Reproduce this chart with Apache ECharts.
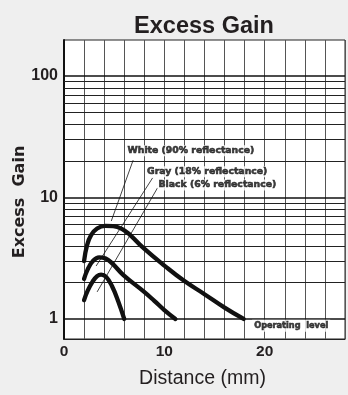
<!DOCTYPE html>
<html>
<head>
<meta charset="utf-8">
<script src="https://cdn.jsdelivr.net/npm/echarts@6/dist/echarts.min.js"></script>
<style>
  html, body { margin: 0; padding: 0; background: #efefef; }
  #chart { width: 348px; height: 395px; }
</style>
</head>
<body>
<div id="chart"></div>
<script>
// ---- data ----
const whiteCurve = [[2.0,3.0],[2.3,4.05],[2.7,4.9],[3.3,5.55],[4.1,5.85],[4.9,5.82],[5.8,5.5],[6.6,4.9],[7.85,3.88],[10.0,2.75],[12.0,2.05],[14.0,1.6],[16.0,1.24],[17.9,1.0]];
const grayCurve  = [[2.0,2.14],[2.35,2.55],[2.85,2.98],[3.5,3.22],[4.15,3.15],[4.8,2.87],[5.92,2.3],[7.96,1.68],[9.0,1.41],[9.97,1.19],[11.1,1.0]];
const blackCurve = [[2.0,1.43],[2.35,1.7],[2.85,2.03],[3.3,2.25],[3.7,2.32],[4.2,2.22],[4.8,1.85],[5.4,1.4],[6.0,1.0]];

const whiteLeader = [[6.89,20.3],[4.71,6.4]];
const grayLeader  = [[8.83,14.5],[3.2,2.73]];
const blackLeader = [[9.32,12.0],[3.3,1.67]];

const curveLabels = [
  {name: 'White (90% reflectance)', at: [6.23, 24.3]},
  {name: 'Gray (18% reflectance)',  at: [8.18, 16.3]},
  {name: 'Black (6% reflectance)',  at: [9.32, 12.67]}
];
const operatingLabel = {name: 'Operating  level', at: [18.75, 0.88]};

const xTickLabels = [0, 10, 20];
const yTickLabels = [1, 10, 100];
const yGridMinor = [2,3,4,5,6,7,8,9,20,30,40,50,60,70,80,90];
const yGridMajor = [1,10,100];

// ---- chart ----
const chart = echarts.init(document.getElementById('chart'), null, {renderer: 'canvas'});

const curveStyle = {color: '#111', width: 4.3, cap: 'round', join: 'round'};
function curve(data) {
  return {type: 'line', data: data, smooth: 0.45, symbol: 'none', z: 4,
          lineStyle: curveStyle, silent: true};
}
function leader(data) {
  return {type: 'line', data: data, symbol: 'none', z: 3,
          lineStyle: {color: '#111', width: 0.8}, silent: true};
}
const labelFont = {fontFamily: 'DejaVu Sans', fontWeight: 'bold', color: '#111',
                   textBorderColor: '#111', textBorderWidth: 0.6};

const option = {
  backgroundColor: '#efefef',
  animation: false,
  title: {
    text: 'Excess Gain', left: 199, top: 10, textAlign: 'center',
    textStyle: {fontFamily: 'Liberation Sans', fontWeight: 'bold', fontSize: 23.5, color: '#231f20'}
  },
  graphic: [{
    type: 'text', x: 20, y: 202, rotation: Math.PI / 2,
    style: {text: 'Excess  Gain', x: 0, y: 0, textAlign: 'center', textVerticalAlign: 'middle',
            font: 'bold 16px "DejaVu Sans"', fill: '#231f20'}
  }],
  grid: {left: 64, right: -4, top: 40, bottom: 56, show: true, backgroundColor: '#ffffff',
         borderColor: '#222', borderWidth: 1},
  xAxis: {
    type: 'value', min: 0, max: 28, interval: 2,
    name: 'Distance (mm)', nameLocation: 'middle', nameGap: 30,
    nameTextStyle: {fontFamily: 'Liberation Sans', fontSize: 19.5, color: '#231f20', padding: [0, 4, 0, 0]},
    axisLine: {show: true, lineStyle: {color: '#222', width: 1}},
    axisTick: {show: false},
    splitLine: {show: true, lineStyle: {color: '#555', width: 1}},
    axisLabel: {
      margin: 5, fontFamily: 'Liberation Sans', fontWeight: 'bold', fontSize: 15.5, color: '#231f20',
      formatter: v => xTickLabels.includes(v) ? String(v) : ''
    }
  },
  yAxis: {
    type: 'log', logBase: 10, min: 0.684, max: 198, splitNumber: 3,
    axisLine: {show: true, lineStyle: {color: '#111', width: 2}},
    axisTick: {show: false},
    splitLine: {show: false},
    axisLabel: {
      margin: 6, fontFamily: 'Liberation Sans', fontWeight: 'bold', fontSize: 16, color: '#231f20',
      showMinLabel: false, showMaxLabel: false,
      formatter: v => {
        const t = yTickLabels.find(t => Math.abs(v - t) < 1e-6 * t);
        return t !== undefined ? String(t) : '';
      }
    }
  },
  series: [
    {
      type: 'line', data: [], silent: true, z: 1,
      markLine: {
        silent: true, symbol: 'none', z: 1, animation: false,
        label: {show: false},
        data: yGridMinor.map(v => ({yAxis: v, lineStyle: {color: '#222', width: 1, type: 'solid'}}))
          .concat(yGridMajor.map(v => ({yAxis: v, lineStyle: {color: '#111', width: 1.6, type: 'solid'}})))
      }
    },
    leader(whiteLeader), leader(grayLeader), leader(blackLeader),
    curve(whiteCurve), curve(grayCurve), curve(blackCurve),
    {
      type: 'scatter', symbolSize: 0, z: 10, silent: true,
      data: curveLabels.map(d => ({value: d.at, name: d.name})),
      label: Object.assign({
        show: true, position: 'right', distance: 0, formatter: '{b}', fontSize: 9.3,
        backgroundColor: '#ffffff', padding: [1, 1]
      }, labelFont)
    },
    {
      type: 'scatter', symbolSize: 0, z: 10, silent: true,
      data: [{value: operatingLabel.at, name: operatingLabel.name}],
      label: Object.assign({
        show: true, position: 'right', distance: 0, formatter: '{b}', fontSize: 8.2,
        backgroundColor: '#ffffff', padding: [2, 2]
      }, labelFont)
    }
  ]
};
chart.setOption(option);
</script>
</body>
</html>
